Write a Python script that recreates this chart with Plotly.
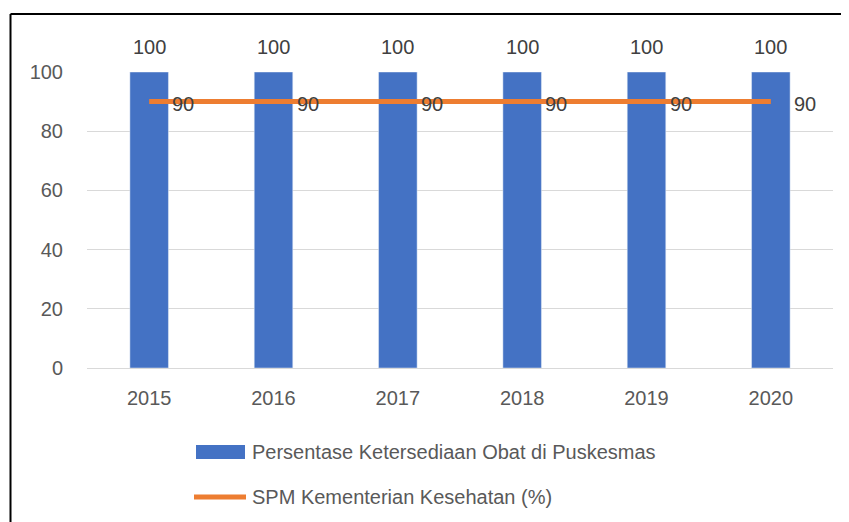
import plotly.graph_objects as go

years = ["2015", "2016", "2017", "2018", "2019", "2020"]
ketersediaan = [100, 100, 100, 100, 100, 100]
spm = [90, 90, 90, 90, 90, 90]
bar_name = "Persentase Ketersediaan Obat di Puskesmas"
line_name = "SPM Kementerian Kesehatan (%)"

BLUE = "#4472C4"
ORANGE = "#ED7D31"
TXT = "#595959"
LBL = "#404040"
FONT = "Liberation Sans, Arial, sans-serif"
FS = 20

OFF = 8  # page body offset
W, H = 849 - OFF, 522 - OFF
L, R, T, B = 87 - OFF, 16, 72 - OFF, 522 - 368
pw, ph = W - L - R, H - T - B

def px(x):
    return (x - OFF - L) / pw

def py(y):
    return (H - B - (y - OFF)) / ph

fig = go.Figure()
fig.add_trace(go.Bar(
    x=years, y=ketersediaan, name=bar_name, marker_color=BLUE,
    showlegend=False, hoverinfo="x+y",
))
fig.add_trace(go.Scatter(
    x=years, y=spm, name=line_name, mode="lines",
    line=dict(color=ORANGE, width=5), cliponaxis=False,
    showlegend=False,
))

annotations = []
# category-axis annotations are positioned by category index
for i, v in enumerate(ketersediaan):
    annotations.append(dict(x=i, y=v, xref="x", yref="y", text=str(v), showarrow=False,
                            xanchor="center", yanchor="bottom", yshift=12,
                            font=dict(size=FS, color=LBL, family=FONT)))
for i, v in enumerate(spm):
    annotations.append(dict(x=i, y=v, xref="x", yref="y", text=str(v), showarrow=False,
                            xanchor="left", yanchor="middle", xshift=21, yshift=-2,
                            font=dict(size=FS, color=LBL, family=FONT)))

shapes = [
    # chart border (top and left)
    dict(type="line", xref="paper", yref="paper", x0=px(10.5), x1=px(860), y0=py(14), y1=py(14),
         line=dict(color="black", width=2)),
    dict(type="line", xref="paper", yref="paper", x0=px(10.5), x1=px(10.5), y0=py(14), y1=py(540),
         line=dict(color="black", width=2)),
    # legend symbols
    dict(type="rect", xref="paper", yref="paper", x0=px(196), x1=px(245), y0=py(445), y1=py(459),
         fillcolor=BLUE, line=dict(width=0)),
    dict(type="line", xref="paper", yref="paper", x0=px(194), x1=px(246), y0=py(497), y1=py(497),
         line=dict(color=ORANGE, width=5)),
]
annotations += [
    dict(xref="paper", yref="paper", x=px(250), y=py(452), xanchor="left", yanchor="middle",
         text=bar_name, showarrow=False, font=dict(size=FS, color=TXT, family=FONT)),
    dict(xref="paper", yref="paper", x=px(250), y=py(497), xanchor="left", yanchor="middle",
         text=line_name, showarrow=False, font=dict(size=FS, color=TXT, family=FONT)),
]

fig.update_layout(
    width=W, height=H,
    margin=dict(l=L, r=R, t=T, b=B),
    paper_bgcolor="white", plot_bgcolor="white",
    bargap=0.69,
    shapes=shapes, annotations=annotations,
    font=dict(family=FONT, size=FS, color=TXT),
)
fig.update_yaxes(range=[0, 100], dtick=20, showgrid=True, gridcolor="#D9D9D9", gridwidth=1,
                 zeroline=True, zerolinecolor="#D9D9D9", zerolinewidth=1,
                 tickfont=dict(size=FS, color=TXT, family=FONT), ticklabelstandoff=23)
fig.update_xaxes(type="category", range=[-0.5, len(years) - 0.5], showgrid=False, showline=False,
                 tickfont=dict(size=FS, color=TXT, family=FONT), ticklabelstandoff=16)

fig.write_html("out.html")
